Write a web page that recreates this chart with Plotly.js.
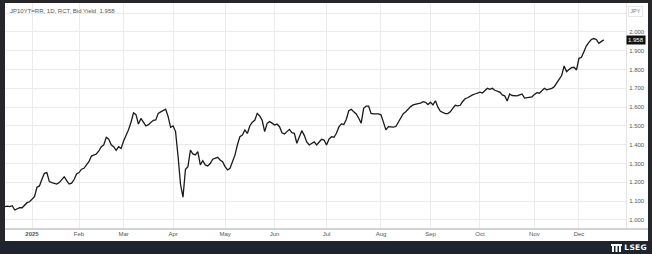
<!DOCTYPE html>
<html>
<head>
<meta charset="utf-8">
<script src="https://cdn.plot.ly/plotly-3.0.1.min.js"></script>
<style>
  html, body { margin:0; padding:0; width:652px; height:254px; overflow:hidden; background:#25272b; }
  #chart { position:absolute; left:5px; top:3px; width:643px; height:238px; background:#fff; }
  #bar { position:absolute; left:0; top:241px; width:652px; height:13px; background:#1d2430; }
  #logo { position:absolute; right:5px; top:242px; height:11px; display:flex; align-items:center; gap:2px;
          color:#fff; font-family:"DejaVu Sans", sans-serif; font-weight:bold; font-size:7.5px; letter-spacing:0.3px; }
</style>
</head>
<body>
<div id="chart"></div>
<div id="bar"></div>
<div id="logo">
  <svg width="11" height="8" viewBox="0 0 11 8"><rect x="0" y="0" width="11" height="2" fill="#fff"/><rect x="1" y="2" width="2" height="6" fill="#fff"/><rect x="4.5" y="2" width="2" height="6" fill="#fff"/><rect x="8" y="2" width="2" height="6" fill="#fff"/></svg>
  <span>LSEG</span>
</div>
<script>
// ---- data (JP10YT=RR, daily bid yield, %) ----
const dates = [
 '2024-12-16','2024-12-17','2024-12-18','2024-12-19','2024-12-20','2024-12-23','2024-12-24','2024-12-25','2024-12-26','2024-12-27','2024-12-30',
 '2025-01-06','2025-01-07','2025-01-08','2025-01-09','2025-01-10','2025-01-14','2025-01-15','2025-01-16','2025-01-17','2025-01-20','2025-01-21','2025-01-22','2025-01-23','2025-01-24','2025-01-27','2025-01-28','2025-01-29','2025-01-30','2025-01-31',
 '2025-02-03','2025-02-04','2025-02-05','2025-02-06','2025-02-07','2025-02-10','2025-02-12','2025-02-13','2025-02-14','2025-02-17','2025-02-18','2025-02-19','2025-02-20','2025-02-21','2025-02-25','2025-02-26','2025-02-27','2025-02-28',
 '2025-03-03','2025-03-04','2025-03-05','2025-03-06','2025-03-07','2025-03-10','2025-03-11','2025-03-12','2025-03-13','2025-03-14','2025-03-17','2025-03-18','2025-03-19','2025-03-21','2025-03-24','2025-03-25','2025-03-26','2025-03-27','2025-03-28','2025-03-31',
 '2025-04-01','2025-04-02','2025-04-03','2025-04-04','2025-04-07','2025-04-08','2025-04-09','2025-04-10','2025-04-11','2025-04-14','2025-04-15','2025-04-16','2025-04-17','2025-04-18','2025-04-21','2025-04-22','2025-04-23','2025-04-24','2025-04-25','2025-04-28','2025-04-30',
 '2025-05-01','2025-05-02','2025-05-07','2025-05-08','2025-05-09','2025-05-12','2025-05-13','2025-05-14','2025-05-15','2025-05-16','2025-05-19','2025-05-20','2025-05-21','2025-05-22','2025-05-23','2025-05-26','2025-05-27','2025-05-28','2025-05-29','2025-05-30',
 '2025-06-02','2025-06-03','2025-06-04','2025-06-05','2025-06-06','2025-06-09','2025-06-10','2025-06-11','2025-06-12','2025-06-13','2025-06-16','2025-06-17','2025-06-18','2025-06-19','2025-06-20','2025-06-23','2025-06-24','2025-06-25','2025-06-26','2025-06-27','2025-06-30',
 '2025-07-01','2025-07-02','2025-07-03','2025-07-04','2025-07-07','2025-07-08','2025-07-09','2025-07-10','2025-07-11','2025-07-14','2025-07-15','2025-07-16','2025-07-17','2025-07-18','2025-07-22','2025-07-23','2025-07-24','2025-07-25','2025-07-28','2025-07-29','2025-07-30','2025-07-31',
 '2025-08-01','2025-08-04','2025-08-05','2025-08-06','2025-08-07','2025-08-08','2025-08-12','2025-08-13','2025-08-14','2025-08-15','2025-08-18','2025-08-19','2025-08-20','2025-08-21','2025-08-22','2025-08-25','2025-08-26','2025-08-27','2025-08-28','2025-08-29',
 '2025-09-01','2025-09-02','2025-09-03','2025-09-04','2025-09-05','2025-09-08','2025-09-09','2025-09-10','2025-09-11','2025-09-12','2025-09-16','2025-09-17','2025-09-18','2025-09-19','2025-09-22','2025-09-24','2025-09-25','2025-09-26','2025-09-29','2025-09-30',
 '2025-10-01','2025-10-02','2025-10-03','2025-10-06','2025-10-07','2025-10-08','2025-10-09','2025-10-10','2025-10-14','2025-10-15','2025-10-16','2025-10-17','2025-10-20','2025-10-21','2025-10-22','2025-10-23','2025-10-24','2025-10-27','2025-10-28','2025-10-29','2025-10-30','2025-10-31',
 '2025-11-04','2025-11-05','2025-11-06','2025-11-07','2025-11-10','2025-11-11','2025-11-12','2025-11-13','2025-11-14','2025-11-17','2025-11-18','2025-11-19','2025-11-20','2025-11-21','2025-11-25','2025-11-26','2025-11-27','2025-11-28',
 '2025-12-01','2025-12-02','2025-12-03','2025-12-04','2025-12-05','2025-12-08','2025-12-09','2025-12-10','2025-12-11','2025-12-12','2025-12-15'
];
const yields = [
 1.071,1.074,1.071,1.076,1.053,1.060,1.065,1.065,1.080,1.092,1.097,
 1.110,1.124,1.174,1.181,1.216,1.248,1.252,1.204,1.199,1.195,1.191,1.199,1.215,1.230,1.209,1.191,1.196,1.215,1.245,
 1.252,1.270,1.275,1.293,1.310,1.340,1.345,1.351,1.367,1.390,1.400,1.440,1.430,1.400,1.390,1.370,1.390,1.380,
 1.420,1.450,1.480,1.520,1.570,1.560,1.510,1.540,1.520,1.500,1.507,1.520,1.530,1.532,1.567,1.575,1.581,1.589,1.550,1.493,
 1.500,1.470,1.340,1.190,1.121,1.270,1.284,1.372,1.351,1.346,1.363,1.293,1.315,1.293,1.287,1.300,1.323,1.328,1.333,1.319,1.310,
 1.284,1.266,1.275,1.310,1.345,1.400,1.443,1.452,1.479,1.460,1.500,1.520,1.530,1.567,1.553,1.530,1.470,1.514,1.523,1.515,
 1.505,1.510,1.496,1.464,1.457,1.470,1.482,1.464,1.461,1.408,1.443,1.475,1.450,1.415,1.399,1.408,1.415,1.399,1.417,1.429,1.425,
 1.399,1.430,1.443,1.440,1.461,1.495,1.511,1.508,1.536,1.581,1.589,1.575,1.564,1.541,1.515,1.594,1.606,1.606,1.567,1.564,1.565,1.564,
 1.559,1.514,1.479,1.496,1.493,1.494,1.497,1.520,1.545,1.565,1.576,1.590,1.603,1.612,1.617,1.619,1.621,1.629,1.626,1.614,
 1.626,1.612,1.634,1.600,1.578,1.573,1.566,1.566,1.575,1.594,1.610,1.607,1.610,1.630,1.645,1.650,1.660,1.665,1.670,1.675,
 1.680,1.675,1.690,1.700,1.695,1.700,1.690,1.685,1.680,1.665,1.660,1.633,1.670,1.662,1.660,1.660,1.665,1.670,1.648,1.650,1.653,1.655,
 1.668,1.677,1.674,1.686,1.700,1.692,1.695,1.700,1.709,1.730,1.750,1.768,1.819,1.789,1.800,1.810,1.812,1.798,
 1.860,1.865,1.895,1.926,1.945,1.960,1.965,1.960,1.940,1.950,1.958
];
const lastValue = 1.958;
const marketHolidays = ['2024-12-31','2025-01-01','2025-01-02','2025-01-03','2025-01-13','2025-02-11','2025-02-24','2025-03-20',
  '2025-04-29','2025-05-05','2025-05-06','2025-07-21','2025-08-11','2025-09-15','2025-09-23','2025-10-13','2025-11-03','2025-11-24'];
const monthTickDates = ['2025-01-06','2025-02-03','2025-03-03','2025-04-01','2025-05-01','2025-06-02','2025-07-01','2025-08-01','2025-09-01','2025-10-01','2025-11-04','2025-12-01'];
const monthTickLabels = ['<b>2025</b>','Feb','Mar','Apr','May','Jun','Jul','Aug','Sep','Oct','Nov','Dec'];
const yTickVals = [1.0,1.1,1.2,1.3,1.4,1.5,1.6,1.7,1.8,1.9,2.0,2.1];
const yTickLabels = ['1.000','1.100','1.200','1.300','1.400','1.500','1.600','1.700','1.800','1.900','2.000',''];
const titleText = 'JP10YT=RR, 1D, RCT, Bid Yield  1.958';

const FONT = 'Liberation Sans, Arial, sans-serif';

const trace = {
  x: dates, y: yields, type: 'scatter', mode: 'lines',
  line: {color: '#1a1a1a', width: 1.3},
  hoverinfo: 'skip'
};

const layout = {
  width: 643, height: 238,
  margin: {l: 0, r: 22, t: 0, b: 12},
  paper_bgcolor: '#ffffff', plot_bgcolor: '#ffffff',
  showlegend: false,
  xaxis: {
    type: 'date',
    range: ['2024-12-16 02:00', '2025-12-26 00:00'],
    rangebreaks: [{bounds: ['sat', 'mon']}, {values: marketHolidays}],
    tickmode: 'array', tickvals: monthTickDates, ticktext: monthTickLabels,
    ticks: '', showgrid: true, gridcolor: '#ebebeb', gridwidth: 1,
    showline: false, zeroline: false,
    tickfont: {family: FONT, size: 6, color: '#555'}
  },
  yaxis: {
    side: 'right',
    range: [0.952, 2.154],
    tickmode: 'array', tickvals: yTickVals, ticktext: yTickLabels,
    ticks: '', showgrid: true, gridcolor: '#ebebeb', gridwidth: 1,
    showline: true, linecolor: '#e4e4e4', linewidth: 1, zeroline: false,
    tickfont: {family: FONT, size: 6, color: '#555'},
    ticklabelstandoff: 1
  },
  shapes: [
    {type: 'line', xref: 'paper', yref: 'paper', x0: 0, x1: 643/621, y0: 0, y1: 0,
     line: {color: '#c4c4c4', width: 1.5}}
  ],
  annotations: [
    {text: titleText, xref: 'paper', yref: 'paper', x: 0, y: 1, xanchor: 'left', yanchor: 'top',
     xshift: 3, yshift: -3, showarrow: false, font: {family: FONT, size: 6, color: '#555'}},
    {text: 'JPY', xref: 'paper', yref: 'paper', x: 1, y: 1, xanchor: 'left', yanchor: 'top',
     xshift: 2, yshift: -3, showarrow: false, bordercolor: '#e2e2e2', borderwidth: 0.8, borderpad: 1.5,
     font: {family: FONT, size: 5.5, color: '#777'}},
    {text: String(lastValue.toFixed(3)), xref: 'paper', yref: 'y', x: 1, y: lastValue, xanchor: 'left', yanchor: 'middle',
     xshift: 0, showarrow: false, bgcolor: '#111', borderpad: 1,
     font: {family: FONT, size: 6, color: '#fff'}}
  ]
};

Plotly.newPlot('chart', [trace], layout, {displayModeBar: false, staticPlot: true});
</script>
</body>
</html>
